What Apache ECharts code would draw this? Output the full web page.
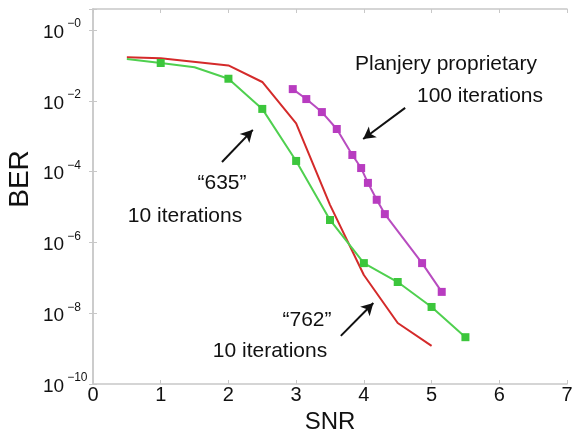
<!DOCTYPE html>
<html>
<head>
<meta charset="utf-8">
<script src="https://cdn.jsdelivr.net/npm/echarts@6/dist/echarts.min.js"></script>
<style>html,body{margin:0;padding:0;background:#fff}#c{width:576px;height:435px}</style>
</head>
<body>
<div id="c"></div>
<script>
// SNR values and BER values
var redSNR = [0.5, 1, 2, 2.5, 3, 3.5, 4, 4.5, 5];
var redBER = [0.17, 0.16, 0.1, 0.034, 0.0023, 1.15e-5, 1.2e-7, 5.3e-9, 1.2e-9];

var greenSNR = [0.5, 1, 1.5, 2, 2.5, 3, 3.5, 4, 4.5, 5, 5.5];
var greenBER = [0.151, 0.117, 0.089, 0.042, 0.0059, 2e-4, 4.3e-6, 2.6e-7, 7.6e-8, 1.5e-8, 2.1e-9];
var greenMarked = [false, true, false, true, true, true, true, true, true, true, true];

var magSNR = [2.95, 3.15, 3.38, 3.6, 3.83, 3.96, 4.06, 4.19, 4.31, 4.86, 5.15];
var magBER = [0.0214, 0.0112, 0.0048, 0.0016, 2.95e-4, 1.26e-4, 4.8e-5, 1.6e-5, 6.3e-6, 2.6e-7, 4e-8];

var xTicks = [0, 1, 2, 3, 4, 5, 6, 7];
var yExponents = [0, -2, -4, -6, -8, -10];

// annotation arrows in data coordinates [tailX, tailBER, headX, headBER]
var arrows = [
  [1.905, Math.pow(10, -3.73), 2.36, Math.pow(10, -2.82)],
  [4.61, Math.pow(10, -2.20), 3.99, Math.pow(10, -3.08)],
  [3.66, Math.pow(10, -8.64), 4.14, Math.pow(10, -7.71)]
];

// annotation texts
var notes = [
  ['Planjery proprietary', 446, 64],
  ['100 iterations', 480, 96],
  ['\u201c635\u201d', 222, 183],
  ['10 iterations', 185, 216],
  ['\u201c762\u201d', 307, 320],
  ['10 iterations', 270, 351]
];

function pairs(xs, ys) { return xs.map(function (x, i) { return [x, ys[i]]; }); }

var chart = echarts.init(document.getElementById('c'));
var font = 'Liberation Sans, Arial, Helvetica, sans-serif';
var axisGray = '#c8c8c8';

function yFmt(v) {
  var e = Math.log10(v);
  var r = Math.round(e);
  if (Math.abs(e - r) > 1e-6) return '';
  if (yExponents.indexOf(r) < 0) return '';
  return '{b|10}{s|\u2212' + Math.abs(r) + '}';
}

var arrowData = arrows.map(function (a) {
  return [{ coord: [a[0], a[1]] }, { coord: [a[2], a[3]] }];
});

var yBase = {
  type: 'log', logBase: 100, min: 1e-10, max: 3.92, splitNumber: 5,
  axisLine: { show: true, lineStyle: { color: axisGray, width: 1.5 } },
  axisTick: { show: true, inside: true, length: 4, lineStyle: { color: axisGray } },
  splitLine: { show: false }
};

var option = {
  animation: false,
  backgroundColor: '#fff',
  grid: { left: 93, right: 9, top: 9, bottom: 51, containLabel: false, outerBoundsMode: 'none' },
  xAxis: [{
    type: 'value', min: 0, max: 7, interval: 1, position: 'bottom',
    axisLine: { show: true, lineStyle: { color: axisGray, width: 1.5 } },
    axisTick: { show: true, inside: true, length: 4, lineStyle: { color: axisGray } },
    splitLine: { show: false },
    axisLabel: { color: '#111', fontSize: 20, fontFamily: font, margin: 1,
      formatter: function (v) { return xTicks.indexOf(v) >= 0 ? String(v) : ''; } },
    name: 'SNR', nameLocation: 'middle', nameGap: 24,
    nameTextStyle: { color: '#111', fontSize: 24, fontFamily: font }
  }, {
    type: 'value', min: 0, max: 7, interval: 1, position: 'top',
    axisLine: { show: true, lineStyle: { color: axisGray, width: 1.5 } },
    axisTick: { show: true, inside: true, length: 4, lineStyle: { color: axisGray } },
    splitLine: { show: false }, axisLabel: { show: false }
  }],
  yAxis: [Object.assign({}, yBase, {
    position: 'left',
    axisLabel: {
      align: 'left', margin: 50, formatter: yFmt,
      rich: {
        b: { fontSize: 19, fontFamily: font, color: '#111', lineHeight: 24, verticalAlign: 'bottom' },
        s: { fontSize: 12, fontFamily: font, color: '#111', lineHeight: 24, verticalAlign: 'top', padding: [0, 0, 0, 3] }
      }
    }
  }), Object.assign({}, yBase, {
    position: 'right', axisLabel: { show: false }
  })],
  series: [{
    name: 'red', type: 'line', data: pairs(redSNR, redBER),
    showSymbol: false, symbol: 'none',
    lineStyle: { color: '#d42a2a', width: 2 }, z: 3
  }, {
    name: 'green', type: 'line',
    data: pairs(greenSNR, greenBER).map(function (p, i) {
      return { value: p, symbol: greenMarked[i] ? 'rect' : 'none' };
    }),
    symbol: 'rect', symbolSize: 8, showAllSymbol: true,
    itemStyle: { color: '#3cc63c' },
    lineStyle: { color: '#4fd04f', width: 2 }, z: 4
  }, {
    name: 'magenta', type: 'line', data: pairs(magSNR, magBER),
    symbol: 'rect', symbolSize: 8, showAllSymbol: true,
    itemStyle: { color: '#b83cc0' },
    lineStyle: { color: '#b84cc0', width: 2 }, z: 4,
    markLine: {
      silent: true, symbol: ['none', 'arrow'], symbolSize: [10, 12],
      label: { show: false },
      lineStyle: { color: '#111', width: 2, type: 'solid' },
      data: arrowData
    }
  }],
  graphic: notes.map(function (n) {
    return { type: 'text', x: n[1], y: n[2],
      style: { text: n[0], fontSize: 21, fontFamily: font, fill: '#111', align: 'center', verticalAlign: 'middle' } };
  }).concat([{
    type: 'text', x: 20, y: 179, rotation: Math.PI / 2,
    style: { text: 'BER', fontSize: 28, fontFamily: font, fill: '#111', align: 'center', verticalAlign: 'middle' }
  }])
};
chart.setOption(option);
</script>
</body>
</html>
